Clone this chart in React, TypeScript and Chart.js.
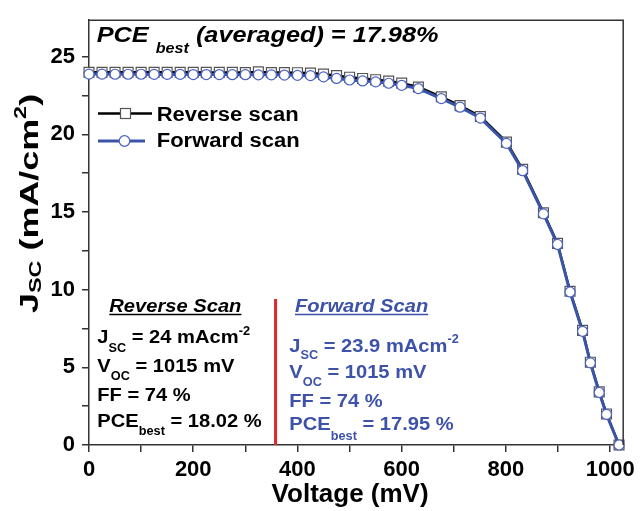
import React, { useEffect, useRef } from 'react';
import { Chart, registerables } from 'chart.js';

Chart.register(...registerables);

// ---------- data ----------
const voltage = [
  0, 25, 50, 75, 100, 125, 150, 175, 200, 225, 250, 275, 300, 325, 350, 375, 400, 425,
  450, 475, 500, 525, 550, 575, 600, 632, 676, 712, 751, 801, 832, 872, 899, 923, 947,
  962, 979, 993, 1017,
];
const reverseJ = [
  24.0, 24.0, 24.0, 24.0, 24.0, 24.0, 24.0, 24.0, 24.0, 23.99, 23.99, 23.99, 23.98, 24.02, 23.98,
  23.98, 23.97, 23.95, 23.88, 23.78, 23.68, 23.6, 23.52, 23.43, 23.3, 23.05, 22.42, 21.85,
  21.15, 19.5, 17.75, 14.95, 12.98, 9.9, 7.38, 5.33, 3.42, 2.0, 0.0,
];
const forwardJ = [
  23.88, 23.88, 23.87, 23.87, 23.87, 23.86, 23.86, 23.86, 23.85, 23.85, 23.85, 23.84, 23.84,
  23.83, 23.83, 23.82, 23.8, 23.78, 23.7, 23.6, 23.5, 23.44, 23.38, 23.29, 23.16, 22.95, 22.3,
  21.75, 21.05, 19.42, 17.66, 14.88, 12.91, 9.85, 7.32, 5.29, 3.38, 1.97, 0.0,
];
const seriesNames = ['Reverse scan', 'Forward scan'];

const X_MIN = 0;
const X_MAX = 1025;
const X_STEP = 100;
const X_LABEL_STEP = 200;
const Y_MIN = 0;
const Y_MAX = 27.35;
const Y_STEP = 2.5;
const Y_LABEL_STEP = 5;

const DIVIDER_V = 358; // mV, red divider line
const DIVIDER_TOP_J = 9.4;

const titleParts = ['PCE', 'best', ' (averaged) = 17.98%'];
const reverseHeader = 'Reverse Scan';
const forwardHeader = 'Forward Scan';
const reverseStats = [
  ['J', 'SC', ' = 24 mAcm', '-2'],
  ['V', 'OC', ' = 1015 mV', ''],
  ['FF = 74 %', '', '', ''],
  ['PCE', 'best', ' = 18.02 %', ''],
];
const forwardStats = [
  ['J', 'SC', ' = 23.9 mAcm', '-2'],
  ['V', 'OC', ' = 1015 mV', ''],
  ['FF = 74 %', '', '', ''],
  ['PCE', 'best', ' = 17.95 %', ''],
];

// ---------- styles ----------
const FONT = '"Liberation Sans", Arial, Helvetica, sans-serif';
const BLACK = '#000000';
const BLUE_LINE = '#3A55A8';
const BLUE_MARK = '#4A62C2';
const BLUE_TEXT = '#3D52A8';
const RED = '#E3242B';
const FRAME = '#333333';

type Seg = { t: string; size: number; dy?: number };

function drawRich(
  ctx: CanvasRenderingContext2D,
  x: number,
  y: number,
  segs: Seg[],
  color: string,
  stretch: number,
  italic: boolean,
) {
  ctx.save();
  ctx.translate(x, y);
  ctx.scale(stretch, 1);
  ctx.fillStyle = color;
  ctx.textAlign = 'left';
  ctx.textBaseline = 'alphabetic';
  let cx = 0;
  for (const s of segs) {
    if (!s.t) continue;
    ctx.font = `${italic ? 'italic ' : ''}bold ${s.size}px ${FONT}`;
    ctx.fillText(s.t, cx, s.dy || 0);
    cx += ctx.measureText(s.t).width;
  }
  ctx.restore();
  return cx * stretch;
}

function statSegs(row: string[], subDy: number, supDy: number): Seg[] {
  return [
    { t: row[0], size: 19 },
    { t: row[1], size: 12, dy: subDy },
    { t: row[2], size: 19 },
    { t: row[3], size: 12, dy: supDy },
  ];
}

const overlayPlugin = {
  id: 'overlay',
  afterDraw(chart: any) {
    const { ctx, chartArea: a, scales } = chart;
    const xs = scales.x;
    const ys = scales.y;
    ctx.save();

    // frame (top + right)
    ctx.strokeStyle = FRAME;
    ctx.lineWidth = 1.5;
    ctx.beginPath();
    ctx.moveTo(a.left, a.top);
    ctx.lineTo(a.right, a.top);
    ctx.lineTo(a.right, a.bottom);
    ctx.stroke();

    // title
    drawRich(
      ctx,
      96.7,
      41.7,
      [
        { t: titleParts[0] + ' ', size: 22 },
        { t: titleParts[1], size: 14, dy: 11 },
        { t: titleParts[2], size: 22 },
      ],
      BLACK,
      1.15,
      true,
    );

    // legend
    ctx.lineCap = 'butt';
    ctx.strokeStyle = BLACK;
    ctx.lineWidth = 2.5;
    ctx.beginPath();
    ctx.moveTo(98, 113.5);
    ctx.lineTo(152, 113.5);
    ctx.stroke();
    ctx.fillStyle = '#fff';
    ctx.strokeStyle = '#555';
    ctx.lineWidth = 1.2;
    ctx.fillRect(120.5, 108.5, 10, 10);
    ctx.strokeRect(120.5, 108.5, 10, 10);

    ctx.strokeStyle = BLUE_LINE;
    ctx.lineWidth = 3;
    ctx.beginPath();
    ctx.moveTo(98, 141);
    ctx.lineTo(145, 141);
    ctx.stroke();
    ctx.beginPath();
    ctx.arc(124.5, 141, 5.3, 0, Math.PI * 2);
    ctx.fillStyle = '#fff';
    ctx.fill();
    ctx.strokeStyle = BLUE_MARK;
    ctx.lineWidth = 1.2;
    ctx.stroke();

    drawRich(ctx, 156.7, 120.7, [{ t: seriesNames[0], size: 20 }], BLACK, 1.1, false);
    drawRich(ctx, 156.7, 147.3, [{ t: seriesNames[1], size: 20 }], BLACK, 1.1, false);

    // divider
    const dx = xs.getPixelForValue(DIVIDER_V);
    ctx.strokeStyle = RED;
    ctx.lineWidth = 3;
    ctx.beginPath();
    ctx.moveTo(dx, ys.getPixelForValue(DIVIDER_TOP_J));
    ctx.lineTo(dx, ys.getPixelForValue(0));
    ctx.stroke();

    // reverse block
    const rw = drawRich(ctx, 109.3, 311.7, [{ t: reverseHeader, size: 19 }], BLACK, 1.06, true);
    ctx.strokeStyle = BLACK;
    ctx.lineWidth = 1.5;
    ctx.beginPath();
    ctx.moveTo(109.3, 314.5);
    ctx.lineTo(109.3 + rw, 314.5);
    ctx.stroke();
    const rBase = [343.3, 371.7, 400.7, 426.7];
    reverseStats.forEach((row, i) => {
      drawRich(ctx, 97.3, rBase[i], statSegs(row, 8.5, -8), BLACK, 1.06, false);
    });

    // forward block
    const fw = drawRich(ctx, 295, 311.7, [{ t: forwardHeader, size: 19 }], BLUE_TEXT, 1.06, true);
    ctx.strokeStyle = BLUE_TEXT;
    ctx.lineWidth = 1.5;
    ctx.beginPath();
    ctx.moveTo(295, 314.5);
    ctx.lineTo(295 + fw, 314.5);
    ctx.stroke();
    const fBase = [351.7, 378.3, 406.7, 430];
    forwardStats.forEach((row, i) => {
      drawRich(ctx, 289.3, fBase[i], statSegs(row, i === 3 ? 10 : 7.5, -9), BLUE_TEXT, 1.06, false);
    });

    // x axis title
    ctx.fillStyle = BLACK;
    ctx.font = `bold 26px ${FONT}`;
    ctx.textAlign = 'center';
    ctx.textBaseline = 'alphabetic';
    ctx.fillText('Voltage (mV)', (a.left + a.right) / 2 - 6, 502);

    // y axis title (rotated)
    ctx.save();
    ctx.translate(38, 313);
    ctx.rotate(-Math.PI / 2);
    drawRich(
      ctx,
      0,
      0,
      [
        { t: 'J', size: 26 },
        { t: 'SC', size: 17, dy: 3 },
        { t: ' (mA/cm', size: 26 },
        { t: '2', size: 17, dy: -12 },
        { t: ')', size: 26 },
      ],
      BLACK,
      1.38,
      false,
    );
    ctx.restore();

    ctx.restore();
  },
};

export default function App() {
  const ref = useRef<HTMLCanvasElement | null>(null);

  useEffect(() => {
    document.body.style.margin = '0';
    const canvas = ref.current;
    if (!canvas) return;

    const reverseData = voltage.map((v, i) => ({ x: v, y: reverseJ[i] }));
    const forwardData = voltage.map((v, i) => ({ x: v, y: forwardJ[i] }));

    const tickFont = { family: FONT, size: 22, weight: 'bold' as const };

    const chart = new Chart(canvas, {
      type: 'line',
      data: {
        datasets: [
          {
            label: seriesNames[0],
            data: reverseData,
            borderColor: BLACK,
            borderWidth: 2.5,
            pointStyle: 'rect',
            pointRadius: 7,
            pointBorderWidth: 1.2,
            pointBorderColor: '#555',
            pointBackgroundColor: '#ffffff',
            order: 1,
            clip: false as any,
          },
          {
            label: seriesNames[1],
            data: forwardData,
            borderColor: BLUE_LINE,
            borderWidth: 3,
            pointStyle: 'circle',
            pointRadius: 5,
            pointBorderWidth: 1.2,
            pointBorderColor: BLUE_MARK,
            pointBackgroundColor: '#ffffff',
            order: 0,
            clip: false as any,
          },
        ],
      },
      options: {
        animation: false,
        responsive: false,
        maintainAspectRatio: false,
        devicePixelRatio: 1,
        layout: { padding: { left: 0, right: 15, top: 19, bottom: 0 } },
        plugins: {
          legend: { display: false },
          tooltip: { enabled: false },
          title: { display: false },
        },
        scales: {
          x: {
            type: 'linear',
            min: X_MIN,
            max: X_MAX,
            ticks: {
              stepSize: X_STEP,
              includeBounds: false,
              autoSkip: false,
              maxRotation: 0,
              color: BLACK,
              font: tickFont,
              padding: 5,
              callback: (v: any) => (Number(v) % X_LABEL_STEP === 0 ? String(v) : ''),
            },
            grid: {
              drawOnChartArea: false,
              drawTicks: true,
              tickLength: 7,
              color: FRAME,
              lineWidth: 1.5,
            },
            border: { color: FRAME, width: 1.5 },
            afterFit: (scale: any) => {
              scale.height = 66;
            },
          },
          y: {
            type: 'linear',
            min: Y_MIN,
            max: Y_MAX,
            ticks: {
              stepSize: Y_STEP,
              includeBounds: false,
              autoSkip: false,
              color: BLACK,
              font: tickFont,
              padding: 7,
              callback: (v: any) => (Number(v) % Y_LABEL_STEP === 0 ? String(v) : ''),
            },
            grid: {
              drawOnChartArea: false,
              drawTicks: true,
              tickLength: 7,
              color: FRAME,
              lineWidth: 1.5,
            },
            border: { color: FRAME, width: 1.5 },
            afterFit: (scale: any) => {
              scale.width = 89;
            },
          },
        },
      },
      plugins: [overlayPlugin],
    });

    return () => {
      chart.destroy();
    };
  }, []);

  return (
    <div style={{ width: 640, height: 511 }}>
      <canvas ref={ref} width={640} height={511} style={{ display: 'block', width: 640, height: 511 }} />
    </div>
  );
}
